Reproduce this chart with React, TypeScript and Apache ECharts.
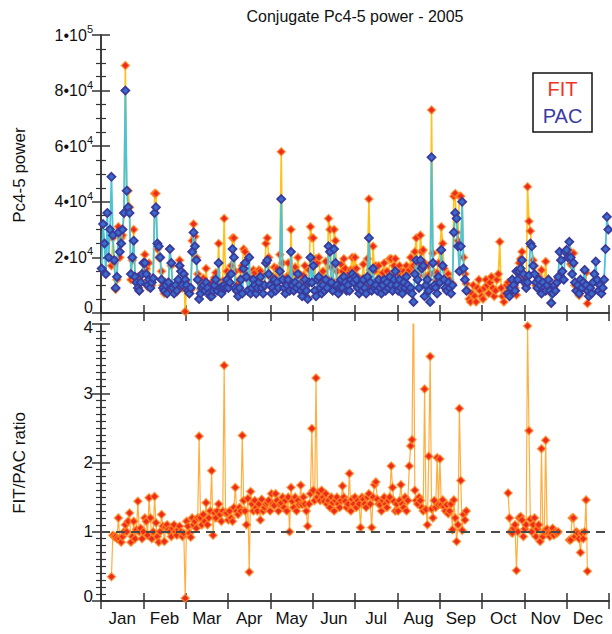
import React, { useEffect, useRef } from "react";
import * as echarts from "echarts";

const MONTHS = ["Jan", "Feb", "Mar", "Apr", "May", "Jun", "Jul", "Aug", "Sep", "Oct", "Nov", "Dec"];
const N = null;

// PAC power, thousands (one value per day)
const PAC = [
  // Jan
  16,32,25,14,36,20,30,49,28,19,9,13,29,22,25,30,36,80,44,38,36,14,20,26,13,11,9,8,11,14,18,
  // Feb
  18,14,10,12,9,11,12.5,36,38,25,24,20,12,9,8,10,7,11,23,18,9,7,10,8,12,17,15,10,
  // Mar
  14,12,10,8,7,9,22,29,24,19,12,5,7,9,10,8,11,9,7,6,6,8,10,12,8,18,9,7,9,10,9,
  // Apr
  12,9,11,14,23,20,9,8,6,9,12,7,16,18,13,8,20,7,9,12,10,7,9,11,13,9,7,10,18,19,
  // May
  14,10,7,9,12,8,11,9,15,41,12,9,7,10,12,8,22,10,8,11,9,14,10,8,6,9,12,8,5,11,20,
  // Jun
  11,17,8,6,12,13,9,7,10,8,12,9,24,22,11,8,23,18,10,7,9,12,9,13,11,8,10,8,12,14,
  // Jul
  11,13,12,9,7,10,8,12,9,7,13,27,11,8,16,9,10,8,12,9,7,10,12,8,11,9,13,10,8,12,15,
  // Aug
  10,8,12,9,7,11,9,13,10,8,9,7,4,14,19,12,9,19,16,17,6,10,12,8,4,56,18,10,9,7,13,
  // Sep
  11,22.7,17,12,9,8,11,9,7,10,29,36,34,24,15,24,40,16,12,8,N,N,N,N,N,N,N,N,N,N,
  // Oct
  N,N,N,N,N,N,N,N,N,N,N,N,N,N,N,N,N,N,N,7,6,9,12,10,8,15,12,15,16,19,14,
  // Nov
  11,9,11,13.5,25,24,17,14,11,9,12,10,7,11,9,8,10,12,8,3.6,7,10,8,11,13,22,19,15,12,22,
  // Dec
  22.7,20,25.6,20,14,18,11,8,10,7,12,9,11,15.5,10,8,6,9,7,11,14,18.5,12,8,10,7,9,12,23,34.6,30,
];

// FIT power, thousands
const FIT = [
  N,N,N,N,N,N,N,17,27,18,8.5,12,31,20,27,28,36,89,44,44,38,12,19,30,12,11,13,8,11.5,14,18,
  21,16,9.5,18,11,10,12.5,43,43,23,20,20,15,10,7,11,8,11,23,17,9.5,8,10,7.6,12,19,15,9,
  13.5,0.5,11.5,8.6,7,8.3,26,32,27.5,20,14,12,8.5,10,12.5,9,16,10,8.5,8,11,7.5,12.7,14.5,10.5,25,11,8,11.5,34,11.5,
  15,10.5,14,17,27,27,15,10.5,7.5,12,15.5,17,23,22,14,12,8.5,11,12.5,15.5,14.5,9.5,11.5,15.5,15,13,9,13.5,25,27,
  20,13,11,12.5,16.5,12.5,16,12,21,58,18,12,10,13,18,8,30,14.5,11,16.5,12,20,14,13.5,8.5,13.5,17,10.5,5.5,15.5,31,
  27,27,11.5,19.5,18,20,13,11,15,11.5,18.5,12.5,34,30,16.5,11.5,30,26,15,10,12,17.5,15,19.5,16,11,14,14.5,15.5,20,
  15.5,20,16,13,10,10.5,12,17.5,12.5,9.5,19.5,41,15.5,8.5,24,15,17,12,17,12.5,9,14.5,18,11,15,13,19.5,19.5,13,17,19.5,
  14,10.5,17,15,10,15,13.5,17,14.5,15.5,20,16.5,17,22,27,17,13.5,28,22,22.7,18,13,13,17,14,73,21.5,14.5,12,14.5,18,
  22.5,31,25,16,12,11,14,12,10,10.5,42,43,29,26,42,42,40,20,14,10.5,8,5,4,7,10,6,4,9,12,8,
  6,5,9,12,10,7,11,13,9,6,8,12,14,25.6,9,6,4,7,10,11,7,9,12,10.5,9,6.5,12,18,19.5,22,13,
  11.5,10,45.4,33,29.5,24,19,17,10,9.5,13,8.6,15.5,10,9,18.5,10.5,12,7.5,3.5,7.5,9.5,8,11,12.5,N,N,N,N,N,
  N,N,22.5,17.6,17,21.5,10,8,10,6.3,8.4,9,10,15.5,14.6,3.4,N,N,N,N,N,N,N,N,N,N,N,N,N,N,N,
];

// FIT/PAC ratio
const RATIO = [
  N,N,N,N,N,N,N,0.35,0.95,0.93,0.93,0.9,1.2,0.9,0.85,0.93,1.0,1.1,1.0,1.15,1.27,0.85,0.93,1.15,0.9,1.03,1.44,1.0,1.05,0.9,1.0,
  1.2,1.15,0.95,1.49,1.2,0.9,1.0,1.51,1.13,0.93,0.85,1.0,1.25,1.08,0.86,1.07,1.1,1.03,1.0,0.93,1.05,1.1,1.0,0.95,1.03,1.08,1.0,0.93,
  0.98,0.04,1.15,1.08,0.98,0.92,1.2,1.1,1.15,1.05,1.2,2.38,1.2,1.1,1.25,1.15,1.42,1.1,1.2,1.3,1.88,0.95,1.27,1.2,1.3,1.4,1.25,1.15,1.3,3.4,1.27,
  1.27,1.17,1.3,1.2,1.15,1.35,1.64,1.3,1.25,1.35,1.3,2.39,1.45,1.3,1.1,1.48,0.42,1.58,1.4,1.3,1.45,1.35,1.3,1.4,1.17,1.47,1.3,1.35,1.4,1.42,
  1.45,1.3,1.55,1.4,1.38,1.55,1.45,1.3,1.4,1.42,1.5,1.35,1.45,1.3,1.5,1.0,1.64,1.44,1.35,1.5,1.3,1.45,1.39,1.67,1.39,1.5,1.4,1.3,1.08,1.4,1.55,
  2.49,1.6,1.45,3.22,1.5,1.57,1.45,1.6,1.5,1.44,1.55,1.4,1.45,1.35,1.5,1.42,1.3,1.45,1.5,1.4,1.35,1.45,1.66,1.5,1.44,1.35,1.4,1.84,1.3,1.47,
  1.4,1.5,1.35,1.45,1.4,1.06,1.5,1.47,1.4,1.35,1.5,1.55,1.4,1.06,1.5,1.68,1.72,1.47,1.4,1.39,1.3,1.45,1.5,1.4,1.35,1.45,1.5,1.95,1.64,1.44,1.3,
  1.4,1.3,1.45,1.68,1.4,1.35,1.5,1.3,1.45,1.95,2.24,2.33,4.6,1.6,1.45,1.4,1.5,1.45,1.35,1.3,3.06,1.32,1.1,2.09,3.53,1.33,1.2,1.45,1.35,2.07,1.39,
  2.05,1.39,1.46,1.36,1.3,1.39,1.26,1.3,1.4,1.03,1.46,1.2,0.86,1.1,2.78,1.74,1.02,1.25,1.17,1.3,N,N,N,N,N,N,N,N,N,N,
  N,N,N,N,N,N,N,N,N,N,N,N,N,N,N,N,N,N,N,1.56,1.2,1.0,0.98,1.05,1.1,0.44,1.0,1.2,1.22,1.17,0.93,
  1.04,1.1,3.97,2.46,1.18,1.0,1.1,1.2,0.93,1.04,1.1,0.86,2.2,0.93,1.0,2.32,1.04,0.98,0.93,0.98,1.05,0.95,1.0,0.98,1.0,N,N,N,N,N,
  N,N,0.88,0.88,1.2,1.2,0.93,1.0,0.98,0.9,0.7,0.98,0.9,1.0,1.46,0.43,N,N,N,N,N,N,N,N,N,N,N,N,N,N,N,
];

const TOP_TICKS = [0, 20, 40, 60, 80, 100];
const TOP_MANT = ["0", "2", "4", "6", "8", "1"];
const TOP_EXP = ["", "4", "4", "4", "4", "5"];
const BOT_TICKS = [0, 1, 2, 3, 4];

const FONT = "'Liberation Sans', Arial, Helvetica, sans-serif";
const DAYS_PER_YEAR = 365;

function toPts(arr: (number | null)[]) {
  return arr.map((v, i) => [((i + 0.5) * 12) / DAYS_PER_YEAR, v == null ? "-" : v]);
}

const axisLineStyle = { color: "#333", width: 1.5 };

function xVal(gridIndex: number, position: string) {
  return {
    type: "value",
    gridIndex,
    position,
    min: 0,
    max: 12,
    interval: 1,
    axisLine: { show: true, lineStyle: axisLineStyle },
    axisTick: { show: true, inside: true, length: 8, lineStyle: { color: "#333", width: 1.5 } },
    axisLabel: { show: false },
    splitLine: { show: false },
  };
}

function yVal(gridIndex: number, position: string, max: number, interval: number, minorSplit: number, labels: any) {
  return {
    type: "value",
    gridIndex,
    position,
    min: 0,
    max,
    interval,
    axisLine: { show: true, lineStyle: axisLineStyle },
    axisTick: { show: true, inside: true, length: 9, lineStyle: { color: "#333", width: 1.5 } },
    minorTick: { show: true, splitNumber: minorSplit, length: 5, lineStyle: { color: "#333", width: 1.2 } },
    axisLabel: labels,
    splitLine: { show: false },
  };
}

export default function App() {
  const ref = useRef<HTMLDivElement>(null);
  useEffect(() => {
    if (!ref.current) return;
    const chart = echarts.init(ref.current, undefined, { renderer: "svg" });
    const topLabel = {
      show: true,
      margin: 8,
      fontFamily: FONT,
      color: "#111",
      formatter: (v: number) => {
        const k = TOP_TICKS.indexOf(v);
        if (k < 0) return "";
        if (TOP_EXP[k] === "") return "{z|" + TOP_MANT[k] + "}";
        return "{a|" + TOP_MANT[k] + "•10}{s|" + TOP_EXP[k] + "}";
      },
      rich: {
        a: { fontSize: 16, fontFamily: FONT, color: "#111", lineHeight: 18 },
        z: { fontSize: 16, fontFamily: FONT, color: "#111", lineHeight: 18, padding: [0, 0, 12, 0] },
        s: { fontSize: 11, fontFamily: FONT, color: "#111", padding: [0, 0, 12, 0], lineHeight: 12 },
      },
    };
    const botLabel = {
      show: true,
      margin: 8,
      fontFamily: FONT,
      color: "#111",
      formatter: (v: number) => {
        const k = BOT_TICKS.indexOf(v);
        if (k < 0) return "";
        if (k === 0) return "{lo|" + v + "}";
        if (k === BOT_TICKS.length - 1) return "{hi|" + v + "}";
        return "{m|" + v + "}";
      },
      rich: {
        m: { fontSize: 17, fontFamily: FONT, color: "#111" },
        lo: { fontSize: 17, fontFamily: FONT, color: "#111", padding: [0, 0, 10, 0] },
        hi: { fontSize: 17, fontFamily: FONT, color: "#111", padding: [7, 0, 0, 0] },
      },
    };
    const fitItem = { color: "#ec2b1e", borderColor: "rgba(255,140,30,0.7)", borderWidth: 1.5 };
    chart.setOption({
      animation: false,
      grid: [
        { left: 101, top: 35, width: 508, height: 278, containLabel: false },
        { left: 101, top: 324, width: 508, height: 277, containLabel: false },
      ],
      xAxis: [
        xVal(0, "bottom"),
        xVal(0, "top"),
        xVal(1, "bottom"),
        xVal(1, "top"),
        {
          type: "category",
          gridIndex: 1,
          position: "bottom",
          data: MONTHS,
          boundaryGap: true,
          axisLine: { show: false },
          axisTick: { show: false },
          axisLabel: { show: true, fontSize: 17, fontFamily: FONT, color: "#111", margin: 9, interval: 0 },
          splitLine: { show: false },
        },
      ],
      yAxis: [
        yVal(0, "left", 100, 20, 4, topLabel),
        yVal(0, "right", 100, 20, 4, { show: false }),
        yVal(1, "left", 4, 1, 10, botLabel),
        yVal(1, "right", 4, 1, 10, { show: false }),
      ],
      series: [
        {
          name: "FIT",
          type: "line",
          xAxisIndex: 0,
          yAxisIndex: 0,
          data: toPts(FIT),
          symbol: "diamond",
          symbolSize: 8,
          showAllSymbol: true,
          itemStyle: fitItem,
          lineStyle: { color: "#ffc21c", width: 1.6 },
          z: 2,
        },
        {
          name: "PAC",
          type: "line",
          xAxisIndex: 0,
          yAxisIndex: 0,
          data: toPts(PAC),
          symbol: "diamond",
          symbolSize: 8,
          showAllSymbol: true,
          itemStyle: { color: "#3a6ccc", borderColor: "#3a3a9c", borderWidth: 1.8 },
          lineStyle: { color: "#4cc4d8", width: 1.8 },
          z: 3,
        },
        {
          name: "Ratio",
          type: "line",
          xAxisIndex: 2,
          yAxisIndex: 2,
          data: toPts(RATIO),
          symbol: "diamond",
          symbolSize: 8,
          showAllSymbol: true,
          itemStyle: fitItem,
          lineStyle: { color: "rgba(255,160,30,0.85)", width: 1.2 },
          z: 2,
          markLine: {
            silent: true,
            symbol: ["none", "none"],
            label: { show: false },
            lineStyle: { color: "#4a4a4a", type: [9, 6], width: 2 },
            data: [{ yAxis: 1 }],
            z: 4,
          },
        },
      ],
      graphic: [
        {
          type: "text",
          x: 355,
          y: 16,
          style: {
            text: "Conjugate Pc4-5 power - 2005",
            fontSize: 16,
            fontFamily: FONT,
            fill: "#111",
            textAlign: "center",
            textVerticalAlign: "middle",
          },
        },
        {
          type: "text",
          x: 19,
          y: 175,
          rotation: Math.PI / 2,
          style: {
            text: "Pc4-5 power",
            fontSize: 17,
            fontFamily: FONT,
            fill: "#111",
            textAlign: "center",
            textVerticalAlign: "middle",
          },
        },
        {
          type: "text",
          x: 19,
          y: 463,
          rotation: Math.PI / 2,
          style: {
            text: "FIT/PAC ratio",
            fontSize: 17,
            fontFamily: FONT,
            fill: "#111",
            textAlign: "center",
            textVerticalAlign: "middle",
          },
        },
        {
          type: "rect",
          shape: { x: 533, y: 73, width: 59, height: 59 },
          style: { fill: "#fff", stroke: "#111", lineWidth: 1.5 },
          z: 10,
        },
        {
          type: "text",
          x: 562.5,
          y: 89,
          z: 11,
          style: {
            text: "FIT",
            fontSize: 20,
            fontFamily: FONT,
            fill: "#ee3226",
            textAlign: "center",
            textVerticalAlign: "middle",
          },
        },
        {
          type: "text",
          x: 562.5,
          y: 116,
          z: 11,
          style: {
            text: "PAC",
            fontSize: 20,
            fontFamily: FONT,
            fill: "#3b3ba3",
            textAlign: "center",
            textVerticalAlign: "middle",
          },
        },
      ],
    });
    return () => chart.dispose();
  }, []);
  return (
    <div
      ref={ref}
      style={{ position: "absolute", left: 0, top: 0, width: 612, height: 634, background: "#fff" }}
    />
  );
}
